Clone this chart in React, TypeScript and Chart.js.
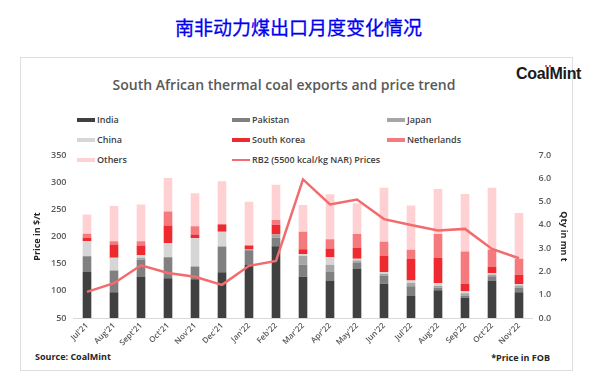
import React, { useEffect, useRef } from "react";
import { Chart, registerables } from "chart.js";

Chart.register(...registerables);

const months = ["Jul'21", "Aug'21", "Sept'21", "Oct'21", "Nov'21", "Dec'21", "Jan'22", "Feb'22", "Mar'22", "Apr'22", "May'22", "Jun'22", "Jul'22", "Aug'22", "Sep'22", "Oct'22", "Nov'22"];

const india = [1.98, 1.11, 1.76, 1.71, 1.66, 1.97, 2.28, 3.08, 1.77, 1.61, 2.1, 1.47, 0.94, 1.19, 0.87, 1.59, 1.11];
const pakistan = [0.67, 0.93, 0.74, 0.9, 0.55, 1.1, 0.63, 0.37, 0.52, 0.37, 0.26, 0.36, 0.42, 0.11, 0.09, 0.2, 0.19];
const japan = [0, 0, 0.09, 0, 0, 0, 0.03, 0.14, 0.37, 0.31, 0.11, 0.07, 0.15, 0.09, 0.1, 0.08, 0.1];
const china = [0.66, 0.55, 0.1, 0.6, 1.23, 0.63, 0, 0, 0.08, 0.32, 0.07, 0.06, 0.1, 0.11, 0.1, 0.06, 0.06];
const southKorea = [0.14, 0.57, 0.42, 0.76, 0.15, 0.31, 0.17, 0.41, 0.21, 0.38, 0.47, 0.7, 0.92, 1.09, 0.31, 0.26, 0.4];
const netherlands = [0.17, 0.14, 0.19, 0.6, 0.35, 0.03, 0, 0.21, 0.75, 0.39, 0.6, 0.61, 0.4, 1.02, 1.39, 0.75, 0.68];
const others = [0.83, 1.51, 1.57, 1.44, 1.42, 1.83, 1.88, 1.51, 1.15, 1.93, 1.32, 2.32, 1.9, 1.93, 2.47, 2.65, 1.97];
const rb2Price = [98, 114, 147, 133, 126, 111, 146, 155, 305, 259, 268, 232, 221, 211, 214, 177, 160];

const seriesNames = ["India", "Pakistan", "Japan", "China", "South Korea", "Netherlands", "Others"];
const seriesValues = [india, pakistan, japan, china, southKorea, netherlands, others];
const lineName = "RB2 (5500 kcal/kg NAR) Prices";

const seriesColors = ["#404040", "#808080", "#a6a6a6", "#d6d6d6", "#ee2a30", "#f47a7e", "#ffd1d3"];
const lineColor = "#f26b6f";

const FONT = "'Open Sans', 'DejaVu Sans', sans-serif";

export default function App() {
  const ref = useRef<HTMLCanvasElement | null>(null);

  useEffect(() => {
    if (!ref.current) return;
    const barSets = seriesNames.map((name, i) => ({
      type: "bar" as const,
      label: name,
      data: seriesValues[i],
      backgroundColor: seriesColors[i],
      borderWidth: 0,
      yAxisID: "y1",
      stack: "qty",
      order: 1,
      categoryPercentage: 0.8,
      barPercentage: 0.4,
    }));
    const chart = new Chart(ref.current, {
      type: "bar",
      data: {
        labels: months,
        datasets: [
          ...barSets,
          {
            type: "line" as const,
            label: lineName,
            data: rb2Price,
            borderColor: lineColor,
            backgroundColor: lineColor,
            borderWidth: 2.5,
            pointRadius: 0,
            tension: 0,
            yAxisID: "y",
            order: 0,
          } as any,
        ],
      },
      options: {
        animation: false,
        responsive: false,
        devicePixelRatio: 1,
        layout: { padding: { left: 31.6, right: 28, top: 155, bottom: 39 } },
        plugins: {
          legend: { display: false },
          title: { display: false },
          tooltip: { enabled: false },
        },
        scales: {
          x: {
            stacked: true,
            grid: { display: false, drawTicks: false },
            border: { display: true, color: "#d9d9d9", width: 1 },
            ticks: {
              minRotation: 45,
              maxRotation: 45,
              autoSkip: false,
              padding: 3,
              color: "#595959",
              font: { family: FONT, size: 8, weight: "600" },
            },
            afterFit: (s: any) => {
              s.height = 35;
            },
          },
          y: {
            position: "left",
            min: 50,
            max: 350,
            stacked: false,
            grid: { display: false, drawTicks: false },
            border: { display: false },
            ticks: {
              stepSize: 50,
              padding: 7,
              color: "#595959",
              font: { family: FONT, size: 9, weight: "600" },
            },
            title: {
              display: true,
              text: "Price in $/t",
              color: "#262626",
              padding: 0,
              font: { family: FONT, size: 9, weight: "700" },
            },
            afterFit: (s: any) => {
              s.width = 41.9;
            },
          },
          y1: {
            position: "right",
            min: 0,
            max: 7,
            stacked: true,
            grid: { display: false, drawTicks: false },
            border: { display: false },
            ticks: {
              stepSize: 1,
              padding: 6,
              color: "#595959",
              font: { family: FONT, size: 9, weight: "600" },
              callback: (v: any) => Number(v).toFixed(1),
            },
            title: {
              display: true,
              text: "Qty in mn t",
              color: "#262626",
              padding: 0,
              font: { family: FONT, size: 9, weight: "700" },
            },
            afterFit: (s: any) => {
              s.width = 36.5;
            },
          },
        },
      } as any,
    });
    return () => chart.destroy();
  }, []);

  const legendItems = [
    ...seriesNames.map((n, i) => ({ name: n, color: seriesColors[i], line: false })),
    { name: lineName, color: lineColor, line: true },
  ];
  const colX = [77, 232, 387];
  const rowY = [120, 140, 160];

  return (
    <div style={{ position: "absolute", left: 0, top: 0, width: 597, height: 392, background: "#fff", overflow: "hidden" }}>
      <div
        style={{
          position: "absolute",
          left: 0,
          top: 12,
          width: 597,
          height: 30,
          lineHeight: "30px",
          textAlign: "center",
          fontFamily: "'Noto Sans CJK SC', sans-serif",
          fontSize: 19,
          fontWeight: 400,
          color: "#0000f0",
          WebkitTextStroke: "0.3px #0000f0",
        }}
      >
        南非动力煤出口月度变化情况
      </div>
      <div
        style={{
          position: "absolute",
          left: 20,
          top: 57,
          width: 553,
          height: 314,
          border: "1px solid #dedede",
          boxSizing: "border-box",
        }}
      />
      <div
        style={{
          position: "absolute",
          left: 20,
          top: 77,
          width: 553,
          height: 16,
          lineHeight: "16px",
          textAlign: "center",
          paddingRight: 25,
          boxSizing: "border-box",
          fontFamily: FONT,
          fontSize: 14,
          fontWeight: 600,
          color: "#595959",
          whiteSpace: "nowrap",
        }}
      >
        South African thermal coal exports and price trend
      </div>
      <div
        style={{
          position: "absolute",
          left: 516,
          top: 64,
          height: 20,
          lineHeight: "20px",
          fontFamily: "'Liberation Sans Narrow', 'Liberation Sans', sans-serif",
          fontSize: 16,
          fontWeight: 700,
          color: "#1a1a1a",
          letterSpacing: -0.3,
          whiteSpace: "nowrap",
        }}
      >
        CoalMint
      </div>
      <div style={{ position: "absolute", left: 545, top: 65, width: 2, height: 2, background: "#e02020", borderRadius: 1 }} />
      <div style={{ position: "absolute", left: 549, top: 65, width: 2, height: 2, background: "#e02020", borderRadius: 1 }} />
      {legendItems.map((it, k) => {
        const x = colX[k % 3];
        const y = rowY[Math.floor(k / 3)];
        return (
          <div key={it.name} style={{ position: "absolute", left: x, top: y - 7, height: 14, whiteSpace: "nowrap" }}>
            <div
              style={{
                position: "absolute",
                left: 0,
                top: it.line ? 6 : 5,
                width: 18,
                height: it.line ? 2 : 4,
                background: it.color,
              }}
            />
            <div
              style={{
                position: "absolute",
                left: 20,
                top: 0,
                height: 14,
                lineHeight: "14px",
                fontFamily: FONT,
                fontSize: 9,
                fontWeight: 600,
                color: "#404040",
              }}
            >
              {it.name}
            </div>
          </div>
        );
      })}
      <div
        style={{
          position: "absolute",
          left: 35,
          top: 350,
          height: 14,
          lineHeight: "14px",
          fontFamily: FONT,
          fontSize: 9,
          fontWeight: 700,
          color: "#262626",
          whiteSpace: "nowrap",
        }}
      >
        Source: CoalMint
      </div>
      <div
        style={{
          position: "absolute",
          right: 597 - 550,
          top: 351,
          height: 14,
          lineHeight: "14px",
          fontFamily: FONT,
          fontSize: 9,
          fontWeight: 700,
          color: "#262626",
          whiteSpace: "nowrap",
        }}
      >
        *Price in FOB
      </div>
      <canvas ref={ref} width={597} height={392} style={{ position: "absolute", left: 0, top: 0, width: 597, height: 392 }} />
    </div>
  );
}
